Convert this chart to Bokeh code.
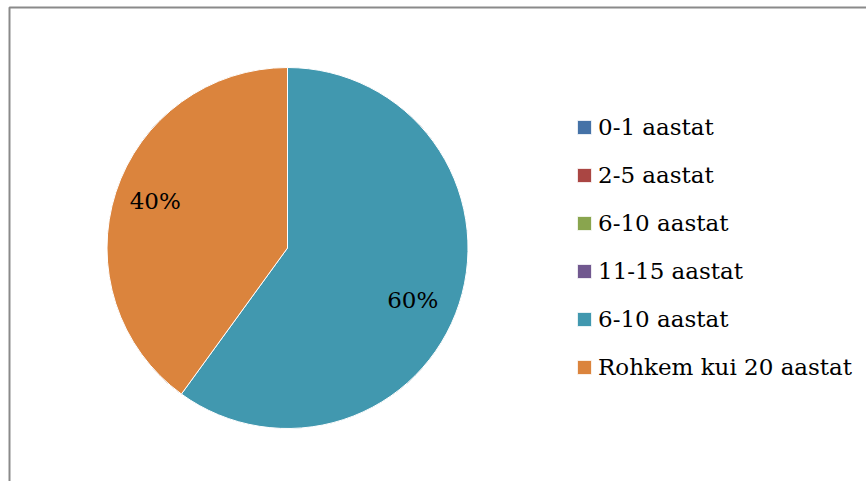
import numpy as np
from bokeh.plotting import figure
from bokeh.models import Range1d, BoxAnnotation, Legend, LegendItem, ColumnDataSource
from bokeh.core.properties import value
from bokeh.embed import file_html
from bokeh.resources import INLINE

# Work experience categories and their shares (%)
categories = ["0-1 aastat", "2-5 aastat", "6-10 aastat", "11-15 aastat",
              "6-10 aastat", "Rohkem kui 20 aastat"]
shares = [0, 0, 0, 0, 60, 40]
colors = ["#4572A7", "#AA4643", "#89A54E", "#71588F", "#4198AF", "#DB843D"]

W, H = 866, 481
FONT = "DejaVu Serif"

p = figure(width=W, height=H, output_backend="svg", toolbar_location=None,
           x_axis_location=None, y_axis_location=None, min_border=0,
           x_range=Range1d(0, W), y_range=Range1d(0, H))
p.outline_line_color = None
p.grid.visible = False
p.background_fill_color = "white"
p.border_fill_color = "white"

# chart-area frame
p.add_layout(BoxAnnotation(left=9, right=W + 20, bottom=-20, top=H - 7,
                           fill_alpha=0, line_color="#8a8a8a", line_alpha=1,
                           line_width=2))

# pie geometry
cx, cy, r = 287, H - 247.5, 180.5
vals = np.array(shares, dtype=float)
frac = vals / vals.sum()
cum = np.concatenate([[0], np.cumsum(frac)])
start = np.pi / 2 - 2 * np.pi * cum[:-1]
end = np.pi / 2 - 2 * np.pi * cum[1:]

src = ColumnDataSource(dict(x=[cx] * len(vals), y=[cy] * len(vals),
                            start=start, end=end, color=colors, label=categories))
wr = p.wedge(x="x", y="y", radius=r, start_angle="start", end_angle="end",
             direction="clock", fill_color="color", line_color="white",
             line_width=1, source=src)

# percentage labels inside the slices (slightly elliptical placement)
mid = (start + end) / 2
nz = vals > 0
kx, ky = 0.75 * r, 0.88 * r
p.text(x=(cx - 3.5 + kx * np.cos(mid))[nz], y=(cy - 2.5 + ky * np.sin(mid))[nz],
       text=[f"{v:.0f}%" for v in vals[nz]],
       text_font=value(FONT), text_font_size="23px", text_color="black",
       text_align="center", text_baseline="middle")

legend = Legend(items=[LegendItem(label=c, renderers=[wr], index=i)
                       for i, c in enumerate(categories)],
                location=(575, 101))
legend.label_text_font = FONT
legend.label_text_font_size = "23px"
legend.label_text_color = "black"
legend.glyph_width = 18
legend.glyph_height = 18
legend.label_standoff = 5
legend.spacing = 22
legend.padding = 0
legend.margin = 0
legend.border_line_color = None
legend.background_fill_alpha = 0
p.add_layout(legend, "center")

open("out.html", "w").write(file_html(p, INLINE))
